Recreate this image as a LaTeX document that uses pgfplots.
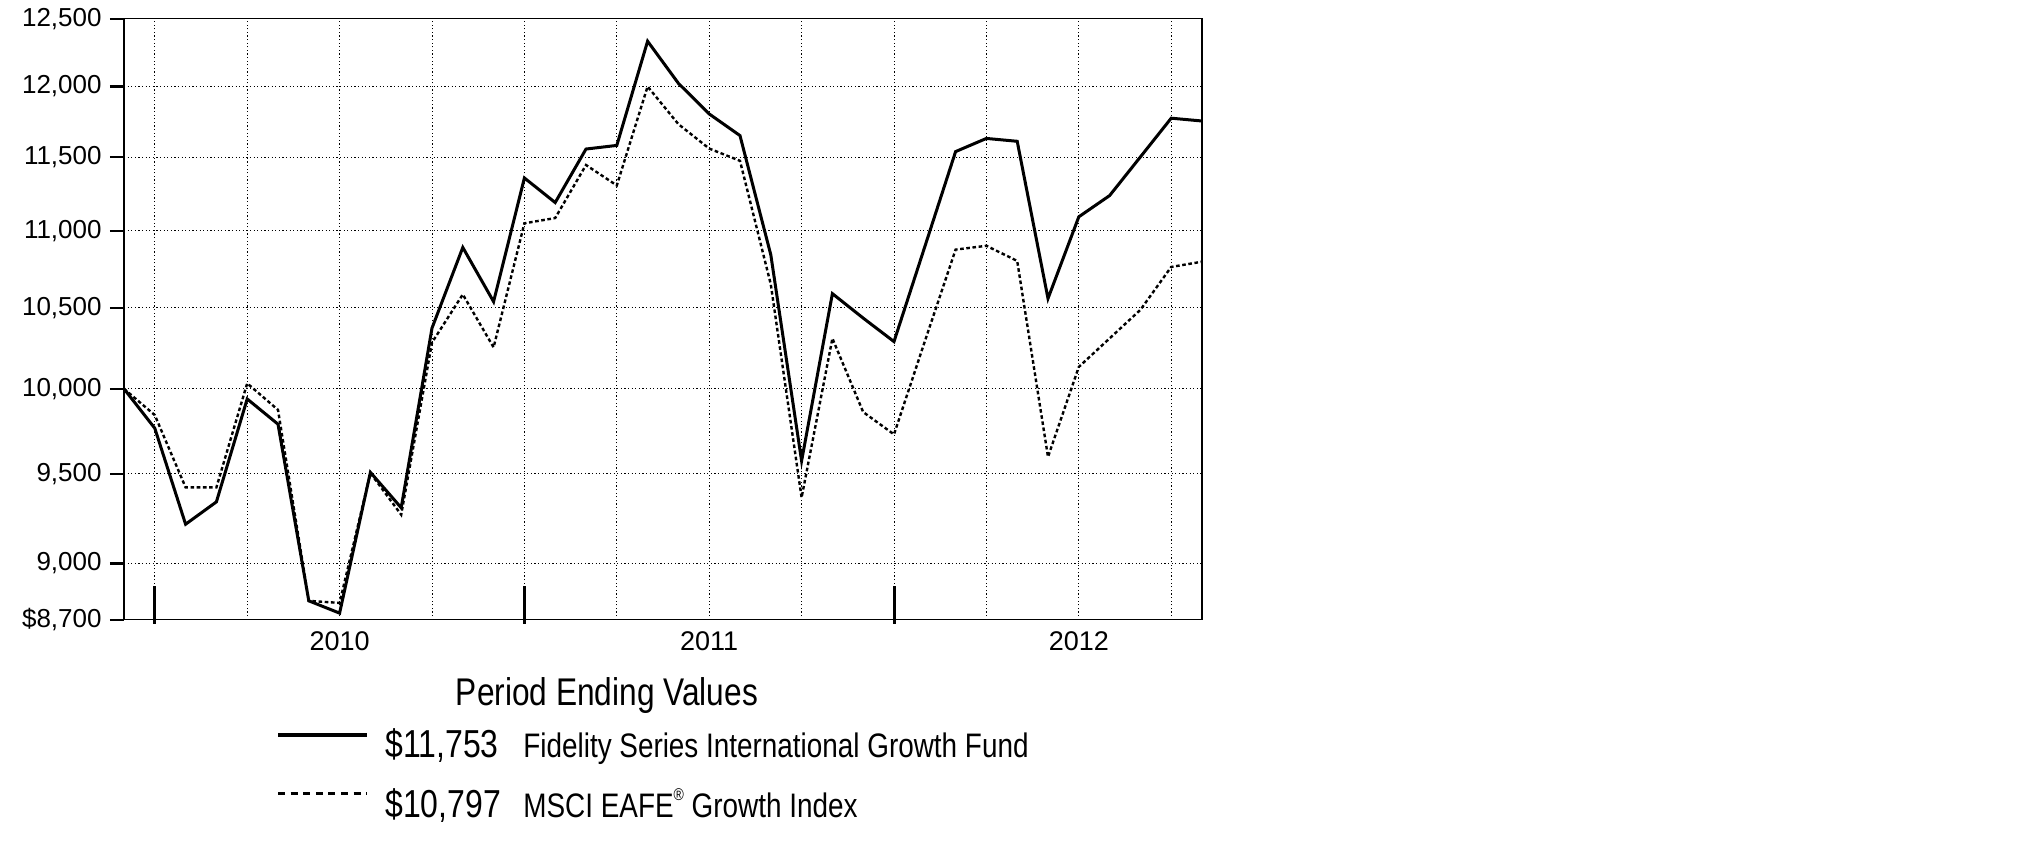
\documentclass[border=0pt]{standalone}
\usepackage{fontspec}
\setmainfont{Liberation Sans}
\usepackage{graphicx}
\usepackage{pgfplots}
\pgfplotsset{compat=1.18}
\usepackage{pgfplotstable}

\pgfplotstableread{
i fund idx
0 10000 10000
1 9765 9843
2 9216 9423
3 9341 9423
4 9939 10033
5 9789 9874
6 8800 8800
7 8735 8789
8 9509 9505
9 9308 9269
10 10373 10283
11 10890 10586
12 10540 10253
13 11356 11050
14 11189 11085
15 11556 11445
16 11581 11305
17 12332 12000
18 12023 11731
19 11803 11559
20 11650 11474
21 10842 10650
22 9575 9365
23 10591 10309
24 10436 9861
25 10289 9729
26 10895 10290
27 11538 10876
28 11630 10901
29 11610 10802
30 10560 9598
31 11093 10133
32 11236 10309
33 11501 10488
34 11773 10763
35 11753 10797
}\data

\begin{document}
\begin{tikzpicture}[x=1pt,y=1pt]
\path[use as bounding box] (0,0) rectangle (1012.5,425.5);
\begin{axis}[
  at={(62pt,115.5pt)}, anchor=south west,
  width=539pt, height=300.5pt, scale only axis,
  xmin=0, xmax=35, ymin=8700, ymax=12500, ymode=log,
  clip=false,
  axis line style={line width=0.6pt, black},
  xtick={7,19,31}, xticklabels={2010,2011,2012},
  xtick style={draw=none},
  minor xtick={1,4,7,10,13,16,19,22,25,28,31,34},
  xminorgrids=true, ymajorgrids=true,
  minor tick length=0pt,
  ytick={8700,9000,9500,10000,10500,11000,11500,12000,12500},
  yticklabels={{\$8,700},{9,000},{9,500},{10,000},{10,500},{11,000},{11,500},{12,000},{12,500}},
  ytick pos=left,
  ytick align=outside, major tick length=7pt,
  ytick style={line width=1.2pt, black},
  major grid style={line width=0.45pt, black, dash pattern=on 0.6pt off 1.2pt},
  minor grid style={line width=0.45pt, black, dash pattern=on 0.6pt off 1.2pt},
  yticklabel style={font=\fontsize{13}{15}\selectfont, inner sep=0pt, xshift=-4pt},
  xticklabel style={font=\fontsize{13.5}{15}\selectfont, anchor=base, yshift=-15.5pt},
]
\addplot[line width=1.5pt, black] table[x=i,y=fund]{\data};
\addplot[line width=1.2pt, black, dash pattern=on 1.8pt off 1.3pt] table[x=i,y=idx]{\data};
\draw[line width=1.5pt] ([yshift=-2pt]axis cs:1,8700) -- ([yshift=17pt]axis cs:1,8700);
\draw[line width=1.5pt] ([yshift=-2pt]axis cs:13,8700) -- ([yshift=17pt]axis cs:13,8700);
\draw[line width=1.5pt] ([yshift=-2pt]axis cs:25,8700) -- ([yshift=17pt]axis cs:25,8700);
\end{axis}
\node[anchor=base, inner sep=0] at (303.5,72.5) {\fontsize{19.3}{20}\selectfont\scalebox{0.82}[1]{Period Ending Values}};
\draw[line width=2pt] (139,58) -- (183.5,58);
\node[anchor=base west, inner sep=0] at (192.5,46.5) {\fontsize{19.5}{20}\selectfont\scalebox{0.82}[1]{\$11,753}};
\node[anchor=base west, inner sep=0] at (261.5,46.5) {\fontsize{17}{18}\selectfont\scalebox{0.82}[1]{Fidelity Series International Growth Fund}};
\draw[line width=1.5pt, dash pattern=on 3.5pt off 2.8pt] (139,28.5) -- (183.5,28.5);
\node[anchor=base west, inner sep=0] at (192.5,16.5) {\fontsize{19.5}{20}\selectfont\scalebox{0.82}[1]{\$10,797}};
\node[anchor=base west, inner sep=0] at (261.5,16.5) {\fontsize{17}{18}\selectfont\scalebox{0.82}[1]{MSCI EAFE\raisebox{0.5em}{\fontsize{8.5}{9}\selectfont\textregistered} Growth Index}};
\end{tikzpicture}
\end{document}
